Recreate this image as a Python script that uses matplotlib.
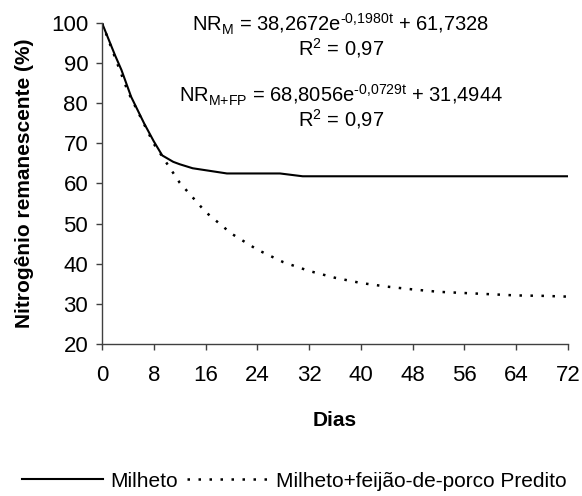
import matplotlib
matplotlib.use("Agg")
import matplotlib.pyplot as plt
from matplotlib.lines import Line2D

plt.rcParams['font.family'] = ['Liberation Sans', 'DejaVu Sans']
plt.rcParams['mathtext.fontset'] = 'custom'
plt.rcParams['mathtext.rm'] = 'Liberation Sans'
plt.rcParams['mathtext.it'] = 'Liberation Sans'

# N remaining (%) over time (days)
milheto_days = [0, 2, 3, 4.5, 6.5, 8, 9.3, 11, 12, 14, 19.3, 27.5, 31, 72]
milheto_n = [100, 92, 88.3, 81.6, 75, 70.5, 67, 65.4, 64.8, 63.8, 62.5, 62.5, 61.8, 61.8]

fp_days = [0, 4, 8, 12, 16, 20, 24, 28, 32, 36, 40, 44, 48, 52, 56, 60, 64, 68, 72]
fp_n = [100, 82.9, 69.9, 60.2, 52.9, 47.5, 43.5, 40.4, 38.2, 36.5, 35.2,
        34.3, 33.6, 33.0, 32.7, 32.4, 32.1, 32.0, 31.8]

x_ticks = [0, 8, 16, 24, 32, 40, 48, 56, 64, 72]
y_ticks = [20, 30, 40, 50, 60, 70, 80, 90, 100]

eq_m = r'NR$_{\text{M}}$ = 38,2672e$^{\text{-0,1980t}}$ + 61,7328'
eq_fp = r'NR$_{\text{M+FP}}$ = 68,8056e$^{\text{-0,0729t}}$ + 31,4944'
r2_text = r'R$^{\text{2}}$ = 0,97'

dotted = (0, (1, 3.4))

fig = plt.figure(figsize=(5.82, 4.96), dpi=100)
ax = fig.add_axes([0.1753, 0.3065, 0.8007, 0.6471])

ax.plot(milheto_days, milheto_n, color='black', lw=1.5, solid_joinstyle='round')
ax.plot(fp_days, fp_n, color='black', lw=1.8, linestyle=dotted,
        dash_capstyle='butt')

ax.set_xlim(0, 72)
ax.set_ylim(20, 100)
ax.set_xticks(x_ticks)
ax.set_yticks(y_ticks)

for side in ('top', 'right'):
    ax.spines[side].set_visible(False)
for side in ('left', 'bottom'):
    ax.spines[side].set_color('#404040')
    ax.spines[side].set_linewidth(1.0)

ax.tick_params(axis='both', direction='out', length=4, width=1.0,
               color='#404040', labelsize=16)
ax.tick_params(axis='x', pad=11)
ax.tick_params(axis='y', pad=6)

ax.set_xlabel('Dias', fontsize=15, fontweight='bold', labelpad=18)
ax.set_ylabel('Nitrogênio remanescente (%)', fontsize=15, fontweight='bold',
              labelpad=12)

ax.text(0.512, 0.973, eq_m, transform=ax.transAxes, ha='center', va='baseline', fontsize=14.5)
ax.text(0.512, 0.900, r2_text, transform=ax.transAxes, ha='center', va='baseline', fontsize=14.5)
ax.text(0.512, 0.751, eq_fp, transform=ax.transAxes, ha='center', va='baseline', fontsize=14.5)
ax.text(0.512, 0.677, r2_text, transform=ax.transAxes, ha='center', va='baseline', fontsize=14.5)

handles = [
    Line2D([], [], color='black', lw=1.5),
    Line2D([], [], color='black', lw=1.8, linestyle=dotted),
]
fig.legend(handles, ['Milheto', 'Milheto+feijão-de-porco Predito'],
           loc='center', bbox_to_anchor=(0.505, 0.03), ncol=2, frameon=False,
           fontsize=15, handlelength=3.9, handletextpad=0.35, columnspacing=0.45,
           borderaxespad=0, borderpad=0)

fig.savefig('out.png', dpi=100)
